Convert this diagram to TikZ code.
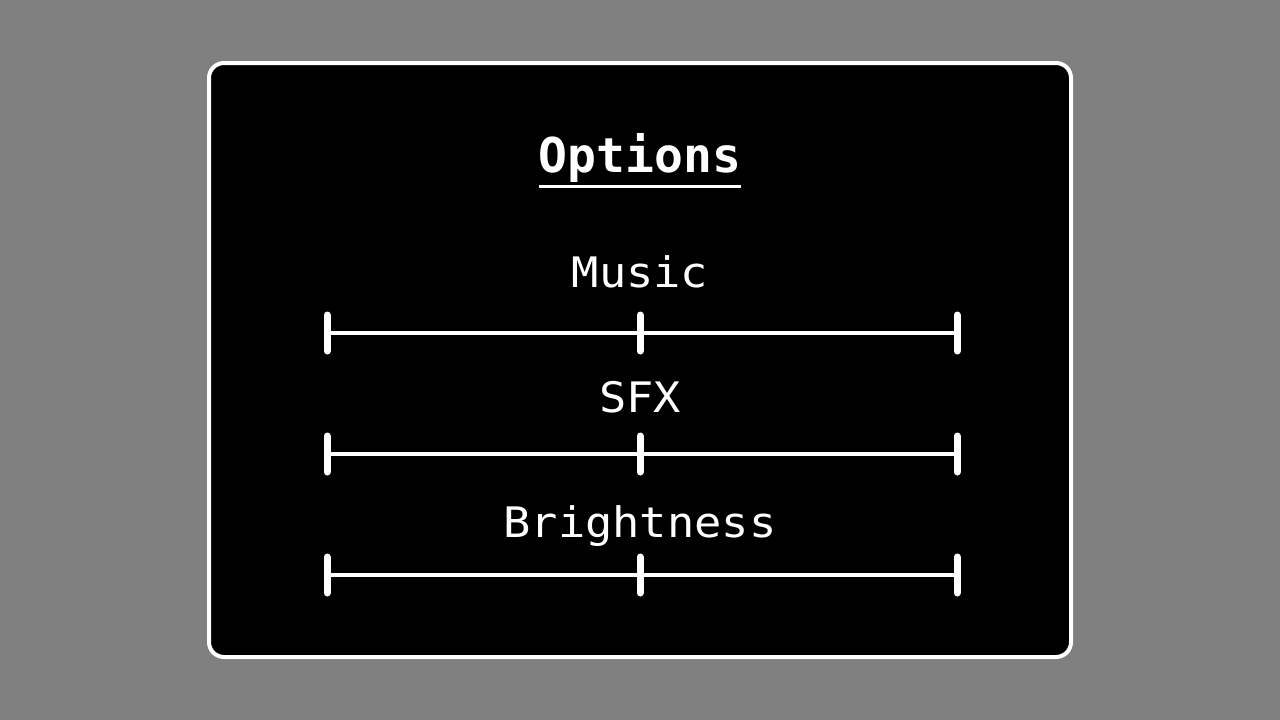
\documentclass[tikz,border=0pt]{standalone}
\usepackage{fontspec}
\newfontfamily\pixbold{DejaVu Sans Mono Bold}
\newfontfamily\pixfont[FakeStretch=1.08]{DejaVu Sans Mono}
\definecolor{bggray}{HTML}{808080}
\tikzset{
  labeltext/.style={text=white, anchor=base, inner sep=0pt, font=\pixfont\fontsize{42}{42}\selectfont},
  titletext/.style={text=white, anchor=base, inner sep=0pt, font=\pixbold\fontsize{48}{48}\selectfont},
  track/.style={draw=white, line width=4pt},
  tickmark/.style={draw=white, line width=7pt, line cap=round},
}
\begin{document}
\begin{tikzpicture}[x=1pt,y=-1pt]
  \fill[bggray] (0,0) rectangle (1280,720);
  \useasboundingbox (0,0) rectangle (1280,720);
  \draw[white, line width=4pt, fill=black, rounded corners=15pt] (209,63) rectangle (1071,657);
  \node[titletext] (title) at (640,172) {Options};
  \coordinate (ulA) at (539,186);
  \coordinate (ulB) at (741,186);
  \draw[white, line width=3pt] (ulA) -- (ulB);
  \foreach \name/\lab/\ty/\sy in {music/Music/287/333, sfx/SFX/412/454, bright/Brightness/537/575}{
    \node[labeltext] (\name) at (640,\ty) {\lab};
    \coordinate (\name L) at (327,\sy);
    \coordinate (\name M) at (640,\sy);
    \coordinate (\name R) at (957,\sy);
    \draw[track] (\name L) -- (\name R);
    \foreach \p in {L,M,R}{
      \draw[tickmark] ([yshift=-18pt]\name\p) -- ([yshift=18pt]\name\p);
    }
  }
\end{tikzpicture}
\end{document}
